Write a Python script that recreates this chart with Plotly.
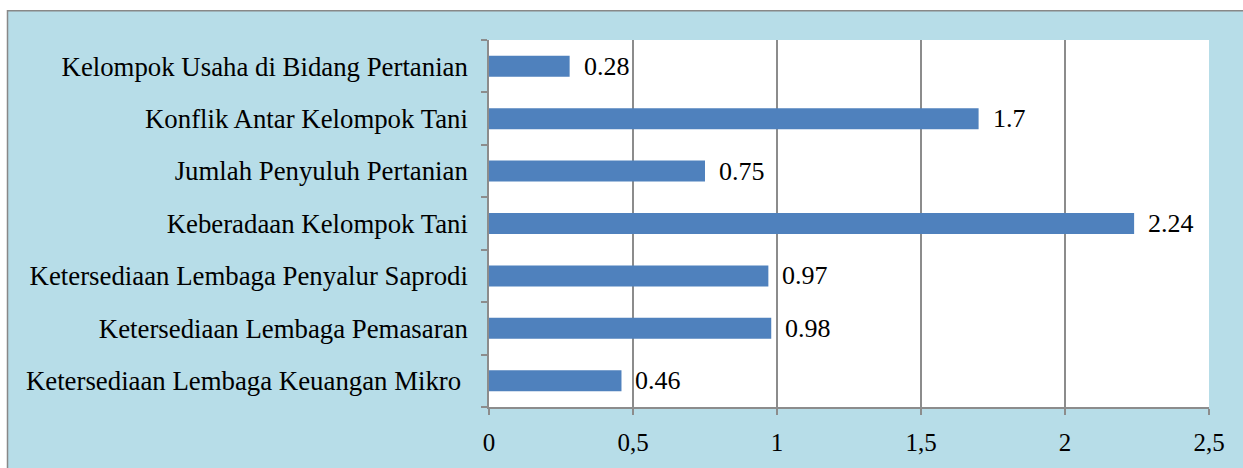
import plotly.graph_objects as go

categories = [
    "Ketersediaan Lembaga Keuangan Mikro ",
    "Ketersediaan Lembaga Pemasaran",
    "Ketersediaan Lembaga Penyalur Saprodi",
    "Keberadaan Kelompok Tani",
    "Jumlah Penyuluh Pertanian",
    "Konflik Antar Kelompok Tani",
    "Kelompok Usaha di Bidang Pertanian",
]
values = [0.46, 0.98, 0.97, 2.24, 0.75, 1.7, 0.28]
value_labels = ["0.46", "0.98", "0.97", "2.24", "0.75", "1.7", "0.28"]
x_tickvals = [0, 0.5, 1, 1.5, 2, 2.5]
x_ticktext = ["0", "0,5", "1", "1,5", "2", "2,5"]

W, H = 1243, 468
L, R, T, B = 489, 34, 40, 58
pw, ph = W - L - R, H - T - B

FONT = "'Liberation Serif', 'Times New Roman', serif"
GRID = "#8C8C8C"

fig = go.Figure()
fig.add_trace(go.Bar(
    x=values, y=categories, orientation="h",
    marker=dict(color="#4F81BD", line=dict(width=0)),
    hoverinfo="skip",
))

for v, c, t in zip(values, categories, value_labels):
    fig.add_annotation(x=v, y=c, text=t, showarrow=False, xanchor="left",
                       yanchor="middle", xshift=12,
                       font=dict(family=FONT, size=26, color="black"))

def px_x(p):
    return (p - L) / pw

def px_y(p):
    return 1 - (p - T) / ph

fig.add_shape(type="rect", xref="paper", yref="paper",
              x0=px_x(7.5), x1=px_x(1260), y0=px_y(480), y1=px_y(10.5),
              fillcolor="#B7DDE8", line=dict(color="#888888", width=1.5),
              layer="below")
fig.add_shape(type="rect", xref="paper", yref="paper",
              x0=0, x1=1, y0=0, y1=1,
              fillcolor="white", line=dict(width=0), layer="below")

fig.update_layout(
    width=W, height=H,
    margin=dict(l=L, r=R, t=T, b=B, pad=0),
    paper_bgcolor="white", plot_bgcolor="white",
    showlegend=False, bargap=0.6,
    font=dict(family=FONT, size=26, color="black"),
)
fig.update_xaxes(
    range=[0, 2.5], tickvals=x_tickvals, ticktext=x_ticktext,
    showgrid=True, gridcolor=GRID, gridwidth=1.5,
    showline=True, linecolor=GRID, linewidth=1.5,
    ticks="outside", ticklen=6, tickcolor=GRID, tickwidth=1.5,
    zeroline=False, ticklabelstandoff=6,
    tickfont=dict(family=FONT, size=25, color="black"),
)
fig.update_yaxes(
    categoryorder="array", categoryarray=categories,
    showgrid=False, showline=True, linecolor=GRID, linewidth=1.5,
    ticks="outside", ticklen=6, tickcolor=GRID, tickwidth=1.5,
    tickson="boundaries", ticklabelstandoff=14,
    tickfont=dict(family=FONT, size=26.8, color="black"),
)

fig.write_html("out.html")
